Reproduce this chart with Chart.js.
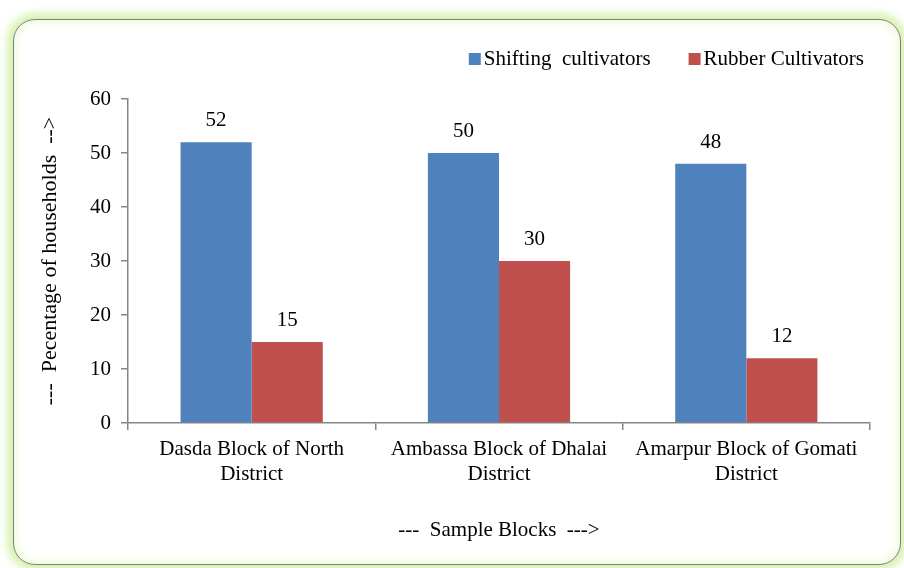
<!DOCTYPE html>
<html>
<head>
<meta charset="utf-8">
<script src="https://cdn.jsdelivr.net/npm/chart.js@4.4.0/dist/chart.umd.min.js"></script>
<style>
  html, body { margin: 0; padding: 0; background: #ffffff; }
  body { width: 904px; height: 568px; position: relative; overflow: hidden; }
  #frame {
    position: absolute; left: 13px; top: 19px; width: 888px; height: 546px;
    box-sizing: border-box; border: 1.5px solid #808080; border-radius: 22px;
    box-shadow: 0 0 8px 6px #d8f2b0, inset 0 0 8px 3px #eef9dc;
    background: #ffffff;
  }
  #c { position: absolute; left: 0; top: 0; }
</style>
</head>
<body>
<div id="frame"></div>
<canvas id="c" width="904" height="568"></canvas>
<script>
const categories = [
  ['Dasda Block of North', 'District'],
  ['Ambassa Block of Dhalai', 'District'],
  ['Amarpur Block of Gomati', 'District']
];
const seriesNames = ['Shifting  cultivators', 'Rubber Cultivators'];
const shiftingValues = [52, 50, 48];
const rubberValues = [15, 30, 12];
const yTicks = [0, 10, 20, 30, 40, 50, 60];
const xTitle = '---  Sample Blocks  --->';
const yTitle = '---  Pecentage of households  -->';

const FONT = "'Liberation Serif', 'Times New Roman', serif";

const valueLabels = {
  id: 'valueLabels',
  afterDatasetsDraw(chart) {
    const ctx = chart.ctx;
    ctx.save();
    ctx.font = '21px ' + FONT;
    ctx.fillStyle = '#000000';
    ctx.textAlign = 'center';
    ctx.textBaseline = 'alphabetic';
    chart.data.datasets.forEach((ds, i) => {
      chart.getDatasetMeta(i).data.forEach((bar, j) => {
        ctx.fillText(String(ds.data[j]), bar.x, bar.y - 16);
      });
    });
    ctx.restore();
  }
};

// Legend drawn from the chart's own dataset labels and colours, right-aligned like the original
const topRightLegend = {
  id: 'topRightLegend',
  afterDraw(chart, args, opts) {
    const ctx = chart.ctx;
    ctx.save();
    ctx.font = opts.size + 'px ' + FONT;
    ctx.textBaseline = 'alphabetic';
    ctx.textAlign = 'left';
    const items = chart.data.datasets.map(ds => ({
      text: ds.label, color: ds.backgroundColor, w: ctx.measureText(ds.label).width
    }));
    let total = 0;
    items.forEach((it, i) => {
      total += opts.box + opts.boxGap + it.w + (i < items.length - 1 ? opts.itemGap : 0);
    });
    let x = opts.right - total;
    items.forEach(it => {
      ctx.fillStyle = it.color;
      ctx.fillRect(x, opts.baseline - opts.box, opts.box, opts.box);
      x += opts.box + opts.boxGap;
      ctx.fillStyle = '#000000';
      ctx.fillText(it.text, x, opts.baseline);
      x += it.w + opts.itemGap;
    });
    ctx.restore();
  }
};

new Chart(document.getElementById('c'), {
  type: 'bar',
  data: {
    labels: categories,
    datasets: [
      { label: seriesNames[0], data: shiftingValues, backgroundColor: '#4F81BD', borderWidth: 0 },
      { label: seriesNames[1], data: rubberValues, backgroundColor: '#C0504D', borderWidth: 0 }
    ]
  },
  options: {
    responsive: false,
    animation: false,
    devicePixelRatio: 1,
    layout: { padding: { left: 14, right: 34, top: 99, bottom: 20 } },
    datasets: { bar: { categoryPercentage: 0.575, barPercentage: 1.0 } },
    plugins: {
      tooltip: { enabled: false },
      legend: { display: false },
      topRightLegend: { right: 864, baseline: 65, box: 12, boxGap: 3, itemGap: 38, size: 21 }
    },
    scales: {
      x: {
        grid: { display: true, offset: true, drawOnChartArea: false, drawTicks: true, tickLength: 7, color: '#868686', lineWidth: 1.5 },
        border: { color: '#868686', width: 1.5 },
        ticks: { color: '#000000', font: { family: FONT, size: 21 }, padding: 7, maxRotation: 0, autoSkip: false },
        title: { display: true, text: xTitle, color: '#000000', font: { family: FONT, size: 21 }, padding: { top: 0, bottom: 5 } },
        afterFit(scale) { scale.height = 125; }
      },
      y: {
        min: 0, max: 60,
        afterBuildTicks(scale) { scale.ticks = yTicks.map(v => ({ value: v })); },
        grid: { display: true, drawOnChartArea: false, drawTicks: true, tickLength: 7, color: '#868686', lineWidth: 1.5 },
        border: { color: '#868686', width: 1.5 },
        ticks: { color: '#000000', font: { family: FONT, size: 21 }, padding: 10 },
        title: { display: true, text: yTitle, color: '#000000', font: { family: FONT, size: 22 }, padding: { top: 23, bottom: 0 } },
        afterFit(scale) { scale.width = 114; }
      }
    }
  },
  plugins: [valueLabels, topRightLegend]
});
</script>
</body>
</html>
